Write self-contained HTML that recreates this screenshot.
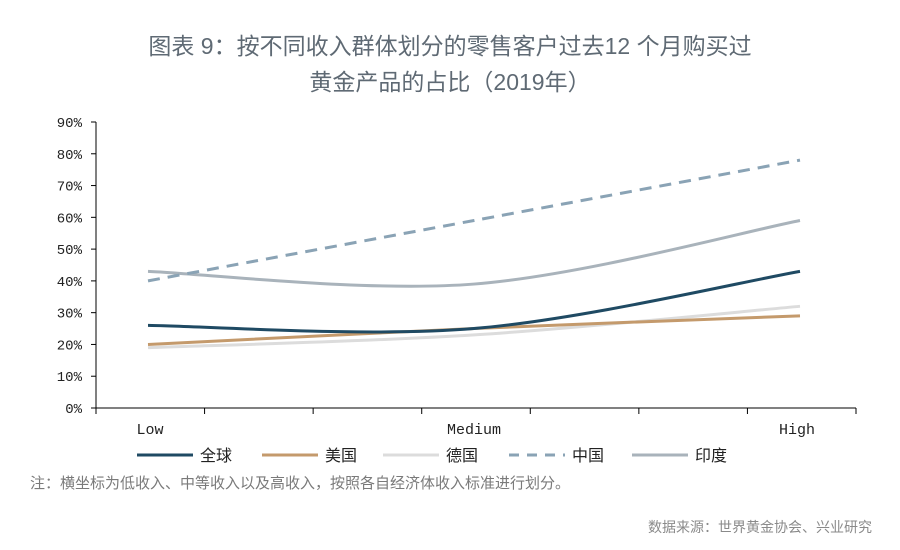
<!DOCTYPE html>
<html><head><meta charset="utf-8"><style>
body{margin:0;background:#fff;width:900px;height:550px;overflow:hidden;font-family:"Liberation Sans","Noto Sans CJK SC",sans-serif}
</style></head><body>
<svg width="900" height="550" style="position:absolute;left:0;top:0">
<text x="450" y="54" text-anchor="middle" font-size="23" fill="#5f6a74" font-family="Liberation Sans,Noto Sans CJK SC,sans-serif">图表 9：按不同收入群体划分的零售客户过去12 个月购买过</text>
<text x="450" y="90" text-anchor="middle" font-size="23" fill="#5f6a74" font-family="Liberation Sans,Noto Sans CJK SC,sans-serif">黄金产品的占比（2019年）</text>
<g id="axes"></g>
<g id="series"></g>
<g id="legend"></g>
<text x="30" y="488" font-size="15" fill="#7a7a7a" font-family="Liberation Sans,Noto Sans CJK SC,sans-serif">注：横坐标为低收入、中等收入以及高收入，按照各自经济体收入标准进行划分。</text>
<text x="872" y="532" text-anchor="end" font-size="14" fill="#8a8a8a" font-family="Liberation Sans,Noto Sans CJK SC,sans-serif">数据来源：世界黄金协会、兴业研究</text>
</svg>
<script>
const categories=["Low","Medium","High"];
const yTicks=["0%","10%","20%","30%","40%","50%","60%","70%","80%","90%"];
const seriesNames=["全球","美国","德国","中国","印度"];
const globalVals=[26,25,43];
const usVals=[20,25,29];
const deVals=[19,23,32];
const cnVals=[40,59,78];
const inVals=[43,39,59];
const ns="http://www.w3.org/2000/svg";
const X0=148,X1=800,Y0=408,Y90=122;
function xs(i){return X0+(X1-X0)*i/(categories.length-1);}
function ys(v){return Y0-(Y0-Y90)*v/90;}
const axes=document.getElementById('axes');
function mk(tag,attrs,parent){const e=document.createElementNS(ns,tag);for(const k in attrs)e.setAttribute(k,attrs[k]);parent.appendChild(e);return e;}
const yl=mk('line',{x1:96,y1:Y90,x2:96,y2:Y0,stroke:'#000','stroke-width':1},axes);


const xl=mk('line',{x1:96,y1:Y0,x2:856,y2:Y0,stroke:'#000','stroke-width':1},axes);


yTicks.forEach((t,i)=>{const y=ys(i*10);
 mk('line',{x1:91,y1:y,x2:96,y2:y,stroke:'#000'},axes);
 const tx=mk('text',{x:82,y:y+5,'text-anchor':'end','font-size':14,fill:'#222','font-family':'Liberation Mono,monospace'},axes);tx.textContent=t;
 
 
});
for(let i=0;i<8;i++){const x=96+i*(856-96)/7;mk('line',{x1:x,y1:Y0,x2:x,y2:Y0+6,stroke:'#000'},axes);}
categories.forEach((c,i)=>{const tx=mk('text',{x:xs(i)+(i==0?2:(i==2?-3:0)),y:434,'text-anchor':'middle','font-size':15,fill:'#222','font-family':'Liberation Mono,monospace'},axes);tx.textContent=c;
 
 });
function path(vals){const p=vals.map((v,i)=>[xs(i),ys(v)]);let d=`M${p[0][0]},${p[0][1]}`;
 for(let i=0;i<p.length-1;i++){const a=p[i-1]||p[i],b=p[i],c=p[i+1],e=p[i+2]||c;
 const c1=[b[0]+(c[0]-a[0])/6,b[1]+(c[1]-a[1])/6],c2=[c[0]-(e[0]-b[0])/6,c[1]-(e[1]-b[1])/6];
 d+=` C${c1[0]},${c1[1]} ${c2[0]},${c2[1]} ${c[0]},${c[1]}`;}return d;}
const all=[globalVals,usVals,deVals,cnVals,inVals];
const colors=["#1f4a63","#c49a6c","#dcdcdc","#8aa3b5","#a9b3bb"];
const dashes=["","","","12,8",""];
const keys=["global","us","germany","china","india"];
const sg=document.getElementById('series');
[2,1,4,3,0].forEach(k=>{const el=mk('path',{d:path(all[k]),fill:'none',stroke:colors[k],'stroke-width':3},sg);if(dashes[k])el.setAttribute('stroke-dasharray',dashes[k]);
 
 });
const lg=document.getElementById('legend');
const lx=[137,262,383,509,632];
seriesNames.forEach((n,i)=>{const g=mk('g',{},lg);
 
 
 const l=mk('line',{x1:lx[i],y1:455,x2:lx[i]+56,y2:455,stroke:colors[i],'stroke-width':3},g);if(dashes[i])l.setAttribute('stroke-dasharray','10,8');
 const t=mk('text',{x:lx[i]+63,y:461,'font-size':16,fill:'#222','font-family':'Liberation Sans,Noto Sans CJK SC,sans-serif'},g);t.textContent=n;});
</script>
</body></html>
